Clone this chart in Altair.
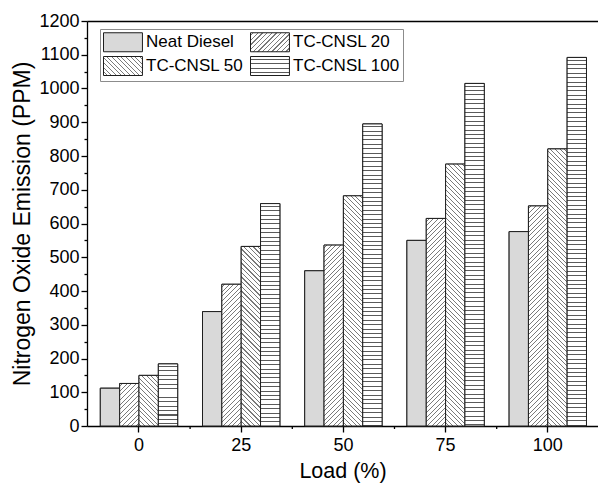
import json
import math
import altair as alt
import pandas as pd

# ---------------- data ----------------
loads = ["0", "25", "50", "75", "100"]
series = ["Neat Diesel", "TC-CNSL 20", "TC-CNSL 50", "TC-CNSL 100"]
neat_diesel = [112, 339, 460, 550, 576]
tc_cnsl_20 = [126, 420, 536, 615, 652]
tc_cnsl_50 = [150, 532, 682, 776, 821]
tc_cnsl_100 = [184, 659, 895, 1015, 1092]
y_axis_values = [0, 50, 100, 150, 200, 250, 300, 350, 400, 450, 500, 550, 600,
                 650, 700, 750, 800, 850, 900, 950, 1000, 1050, 1100, 1150, 1200]

values_by_series = [neat_diesel, tc_cnsl_20, tc_cnsl_50, tc_cnsl_100]
rows = []
for s, vals in zip(series, values_by_series):
    for l, v in zip(loads, vals):
        rows.append({"load": l, "series": s, "value": v, "bar_id": f"{s}|{l}"})
df = pd.DataFrame(rows)
minor_df = pd.DataFrame({"load": loads})

# ---------------- layout / style ----------------
W, H = 511, 405
YMAX = 1200
PAD_INNER = 0.243
PAD_OUTER = 0.1215
ALIGN = 0.536
STEP = W / (len(loads) - PAD_INNER + 2 * PAD_OUTER)
BAR_W = STEP * (1 - PAD_INNER) / len(series)
FONT = "Liberation Sans"
STROKE = "#1e1e1e"
pattern_kind = {"Neat Diesel": "solid", "TC-CNSL 20": "/", "TC-CNSL 50": "\\", "TC-CNSL 100": "h"}


def stop_list(length, period, thick, line, bg):
    stops = [{"offset": 0.0, "color": bg}]
    pos = period / 2.0
    while pos < length:
        s = round(pos / length, 5)
        e = round(min((pos + thick) / length, 1.0), 5)
        stops += [{"offset": s, "color": bg}, {"offset": s, "color": line},
                  {"offset": e, "color": line}, {"offset": e, "color": bg}]
        pos += period
    stops.append({"offset": 1.0, "color": bg})
    return stops


def hatch(kind, w, h):
    if kind == "solid":
        return "#d9d9d9"
    if kind == "h":
        return {"gradient": "linear", "x1": 0, "y1": 0, "x2": 0, "y2": 1,
                "stops": stop_list(h, 4.4, 1.0, "#5a5a5a", "#ffffff")}
    k = (w + h) / (w * w + h * h)
    L = (w + h) / math.sqrt(2)
    if kind == "/":
        x1, y1, x2, y2 = 0, 0, k * w, k * h
    else:
        x1, y1, x2, y2 = 1, 0, 1 - k * w, k * h
    return {"gradient": "linear", "x1": round(x1, 5), "y1": round(y1, 5),
            "x2": round(x2, 5), "y2": round(y2, 5),
            "stops": stop_list(L, 3.3, 0.8, "#7a7a7a", "#ffffff")}


# legend symbol fills (39 x 19 symbols)
legend_range = []
for s in series:
    g = hatch(pattern_kind[s], 39, 19)
    if isinstance(g, str):
        legend_range.append(g)
    else:
        legend_range.append({"expr": json.dumps(g)})

x_enc = alt.X("load:N", sort=loads,
              scale=alt.Scale(domain=loads, paddingInner=PAD_INNER,
                              paddingOuter=PAD_OUTER, align=ALIGN),
              axis=alt.Axis(title="Load (%)", labelAngle=0, tickSize=6,
                            tickWidth=1.3, tickColor="black", domainColor="black",
                            domainWidth=1.3, labelFont=FONT, labelFontSize=18,
                            labelColor="black", labelPadding=4, titleFont=FONT,
                            titleFontSize=21.5, titleFontWeight="normal",
                            titleColor="black", titlePadding=6, grid=False))
xo_enc = alt.XOffset("series:N", sort=series,
                     scale=alt.Scale(domain=series, paddingInner=0, paddingOuter=0))
y_enc = alt.Y("value:Q",
              scale=alt.Scale(domain=[0, YMAX], nice=False, zero=True),
              axis=alt.Axis(title="Nitrogen Oxide Emission (PPM)",
                            values=y_axis_values, format="d",
                            labelExpr="datum.value % 100 === 0 ? datum.label : ''",
                            labelOverlap=False,
                            tickSize={"condition": {"test": "datum.value % 100 === 0", "value": 6}, "value": 3},
                            tickWidth=1.3, tickColor="black", domainColor="black",
                            domainWidth=1.3, labelFont=FONT, labelFontSize=18,
                            labelColor="black", labelPadding=2, titleFont=FONT,
                            titleFontSize=23, titleFontWeight="normal",
                            titleColor="black", titlePadding=4, grid=False))

base = alt.Chart(df)

legend_layer = base.mark_bar(stroke=STROKE, strokeWidth=1).encode(
    x=x_enc, xOffset=xo_enc, y=y_enc,
    fill=alt.Fill("series:N", sort=series,
                  scale=alt.Scale(domain=series, range=legend_range),
                  legend=alt.Legend(title=None, orient="none", legendX=13, legendY=8,
                                    direction="horizontal",
                                    columns=2, columnPadding=4, rowPadding=0,
                                    padding=3, strokeColor="#8c8c8c",
                                    fillColor="white", labelFont=FONT,
                                    labelFontSize=17, labelColor="black",
                                    symbolType="M-1,-1H3.1V1H-1Z", symbolSize=361,
                                    symbolStrokeColor=STROKE, symbolStrokeWidth=1,
                                    labelOffset=23, symbolOffset=0)),
)

bar_layers = []
for s, vals in zip(series, values_by_series):
    for l, v in zip(loads, vals):
        h = v * H / YMAX
        fill = hatch(pattern_kind[s], BAR_W, h)
        bar_layers.append(
            base.transform_filter(alt.datum.bar_id == f"{s}|{l}")
            .mark_bar(fill=fill, stroke=STROKE, strokeWidth=1)
            .encode(x=x_enc, xOffset=xo_enc, y=y_enc)
        )

bars = alt.layer(legend_layer, *bar_layers)

minor_ticks = alt.Chart(minor_df).mark_rule(
    color="black", strokeWidth=1.3, xOffset=STEP * PAD_INNER / 2
).encode(
    x=alt.X("load:N", sort=loads, bandPosition=1,
            axis=alt.Axis(orient="top", labels=False, ticks=False, title=None,
                          domainColor="black", domainWidth=1.3, grid=False)),
    y=alt.value(H),
    y2=alt.value(H + 3),
)

chart = alt.layer(bars, minor_ticks).resolve_axis(x="independent").properties(
    width=W, height=H,
    padding={"left": 87, "top": 21, "right": 0, "bottom": 63},
    autosize=alt.AutoSizeParams(type="none"),
).configure_view(stroke=None).configure(background="white")

chart.save("out.html", embed_options={"renderer": "svg", "actions": False})
